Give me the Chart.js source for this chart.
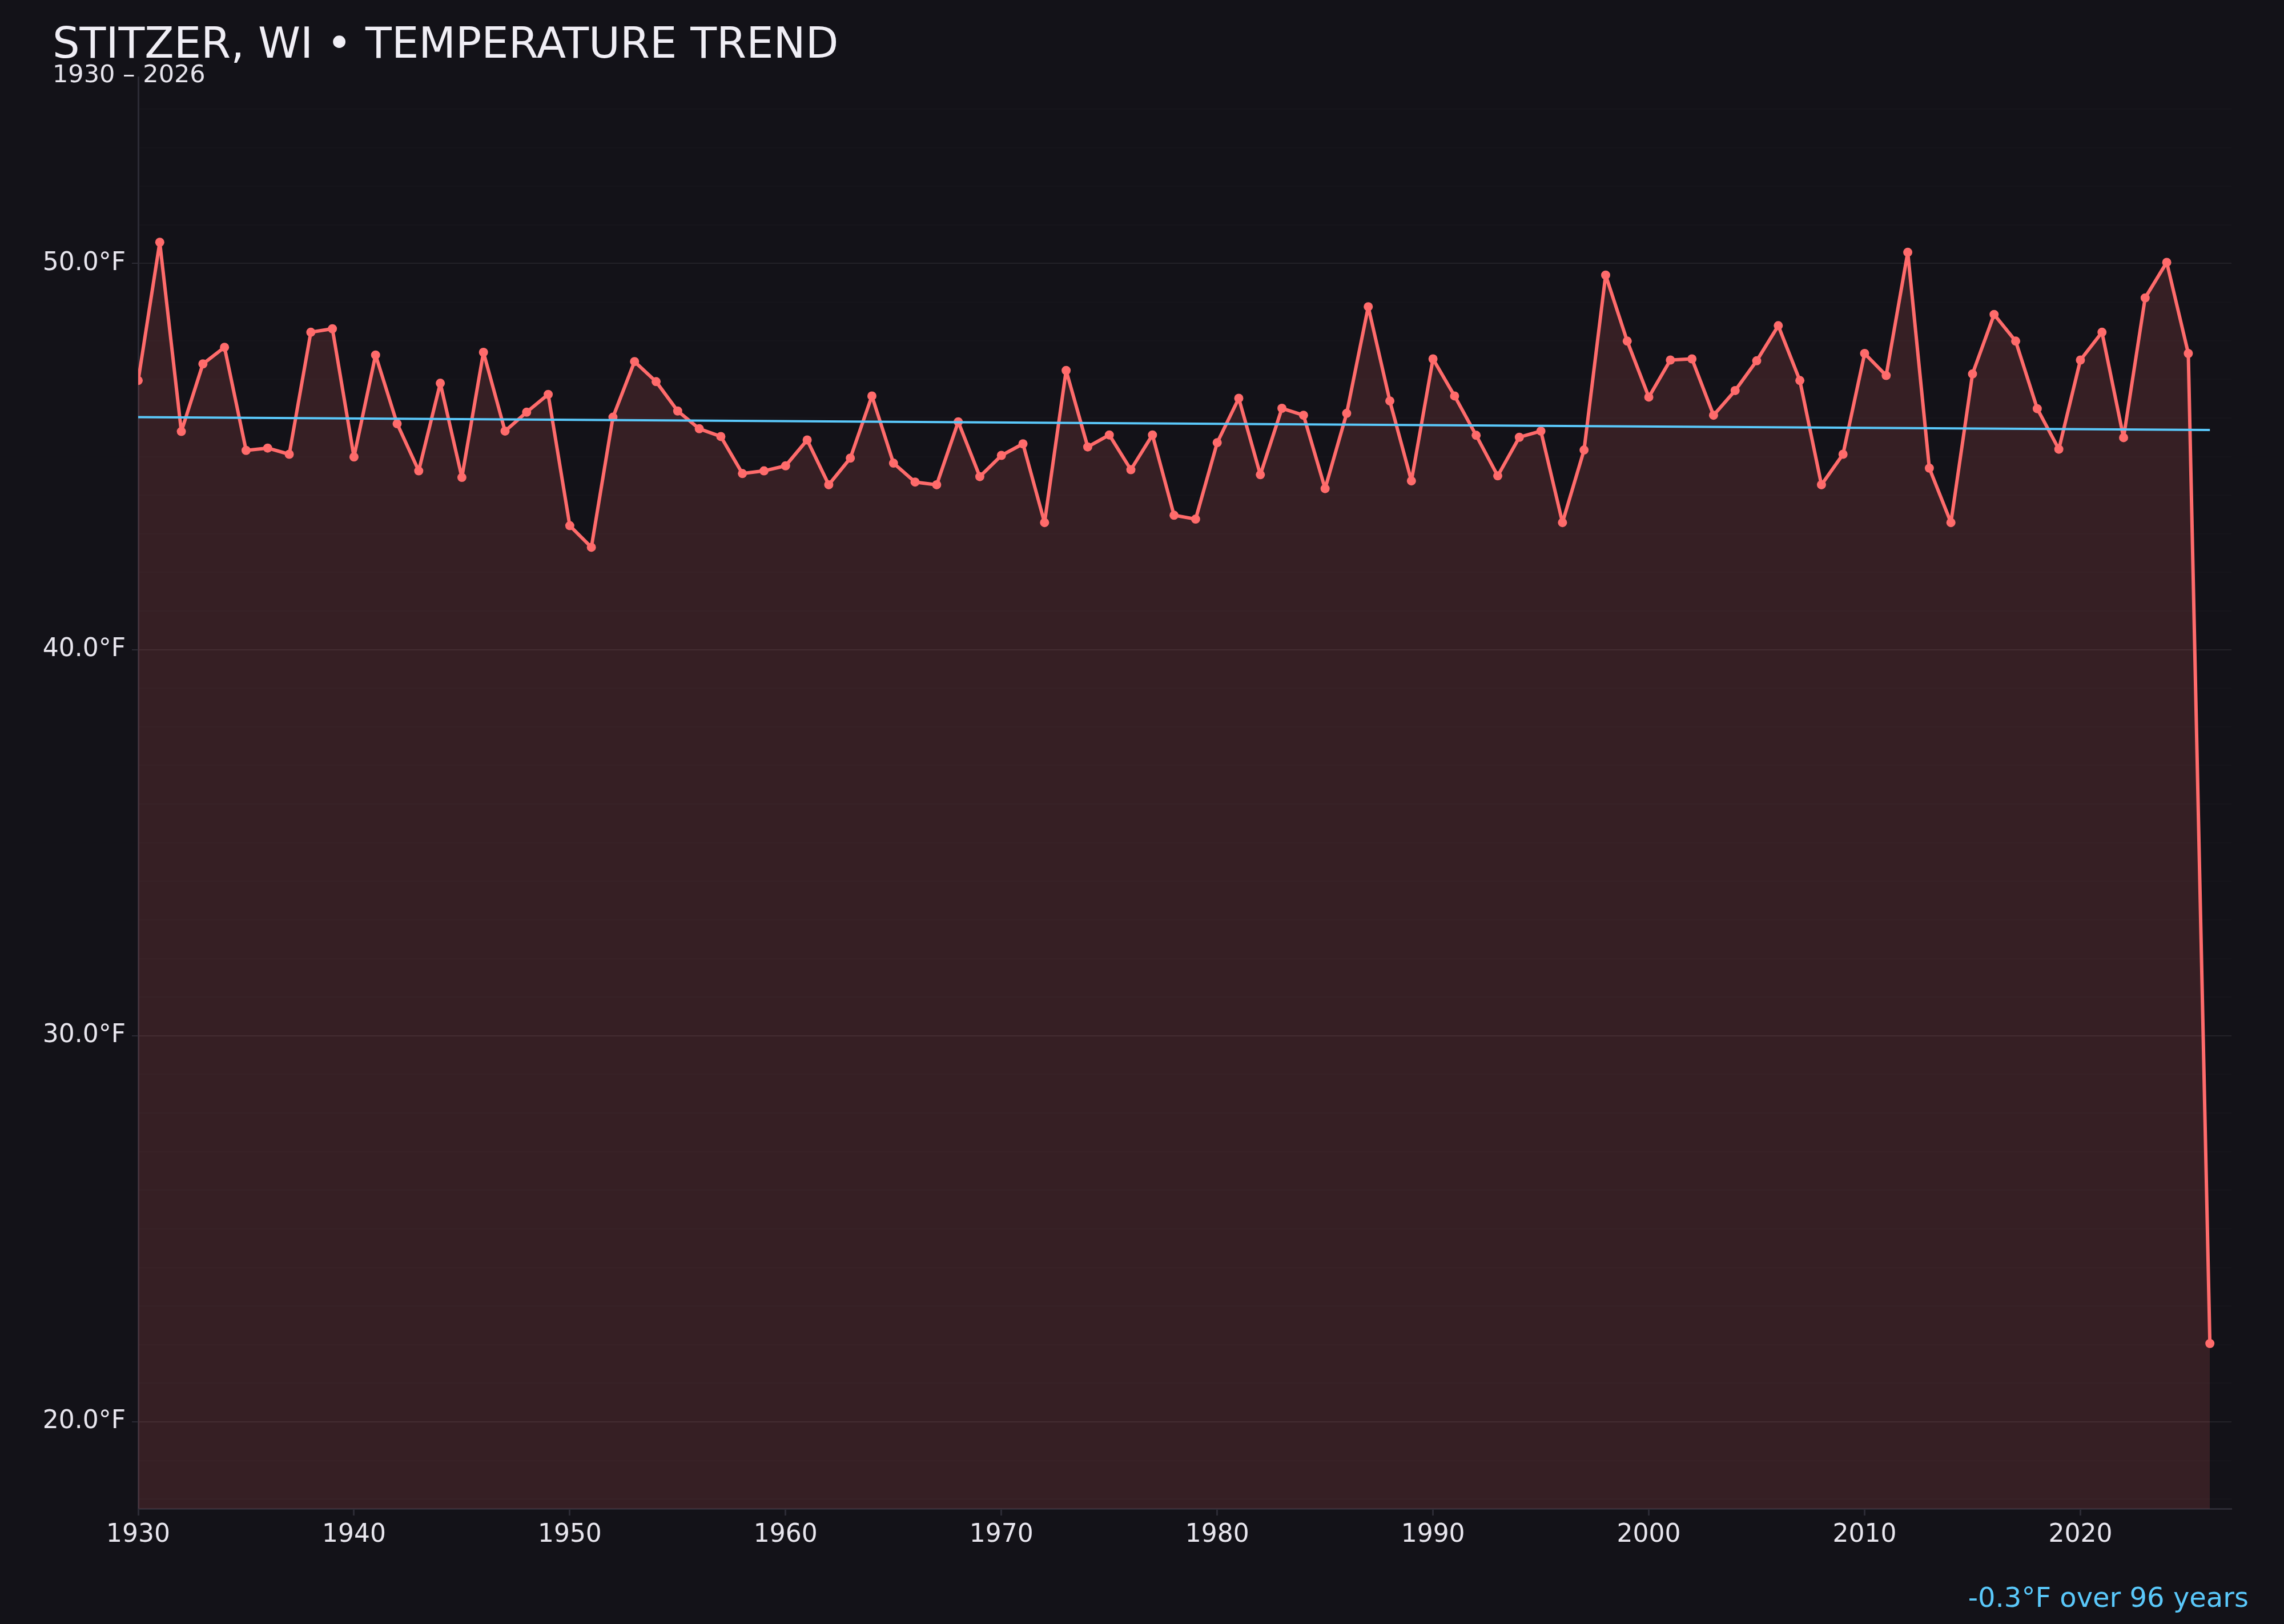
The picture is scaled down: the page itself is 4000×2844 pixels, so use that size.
<!DOCTYPE html>
<html><head><meta charset="utf-8">
<script src="https://cdn.jsdelivr.net/npm/chart.js@4.4.1/dist/chart.umd.min.js"></script>
<style>
html,body{margin:0;padding:0;background:#131218;}
#wrap{position:relative;width:4000px;height:2844px;background:#131218;overflow:hidden;}
#c{position:absolute;left:0;top:0;}
.t{position:absolute;font-family:"DejaVu Sans",sans-serif;line-height:1;white-space:nowrap;}
</style></head><body>
<div id="wrap">
<canvas id="c" width="4000" height="2844"></canvas>
<div class="t" id="title" style="left:92px;top:38px;font-size:75px;color:#f0eef5;">STITZER, WI • TEMPERATURE TREND</div>
<div class="t" id="sub" style="left:92px;top:108px;font-size:43px;color:#e6e4ec;">1930 – 2026</div>
<div class="t" id="foot" style="right:62px;top:2773px;font-size:48px;color:#5ac8fa;">-0.3°F over 96 years</div>
</div>
<script>
const years = [1930,1931,1932,1933,1934,1935,1936,1937,1938,1939,
  1940,1941,1942,1943,1944,1945,1946,1947,1948,1949,
  1950,1951,1952,1953,1954,1955,1956,1957,1958,1959,
  1960,1961,1962,1963,1964,1965,1966,1967,1968,1969,
  1970,1971,1972,1973,1974,1975,1976,1977,1978,1979,
  1980,1981,1982,1983,1984,1985,1986,1987,1988,1989,
  1990,1991,1992,1993,1994,1995,1996,1997,1998,1999,
  2000,2001,2002,2003,2004,2005,2006,2007,2008,2009,
  2010,2011,2012,2013,2014,2015,2016,2017,2018,2019,
  2020,2021,2022,2023,2024,2025,2026];
const temps = [46.97,50.55,45.65,47.40,47.83,45.16,45.22,45.06,48.22,48.31,
  44.99,47.63,45.85,44.63,46.90,44.46,47.70,45.66,46.15,46.61,
  43.21,42.65,46.02,47.46,46.94,46.18,45.72,45.52,44.56,44.63,
  44.76,45.43,44.27,44.96,46.57,44.83,44.34,44.27,45.90,44.48,
  45.03,45.33,43.29,47.23,45.25,45.56,44.66,45.56,43.48,43.38,
  45.36,46.51,44.53,46.25,46.07,44.17,46.12,48.88,46.44,44.37,
  47.53,46.57,45.55,44.50,45.50,45.66,43.29,45.17,49.70,47.99,
  46.54,47.50,47.53,46.07,46.71,47.48,48.39,46.97,44.27,45.06,
  47.67,47.10,50.29,44.70,43.29,47.14,48.68,47.99,46.24,45.19,
  47.50,48.22,45.49,49.11,50.03,47.67,22.03];
const trendYears = [1930, 2026];
const trendTemps = [46.02, 45.69];
const xTickYears = [1930,1940,1950,1960,1970,1980,1990,2000,2010,2020];
const yLabelTemps = [20,30,40,50];

const AXIS = '#2c2b35';
Chart.defaults.font.family = '"DejaVu Sans", sans-serif';
const lo = Math.min(...temps), hi = Math.max(...temps), pad = (hi - lo) * 0.15;
const yMin = lo - pad, yMax = hi + pad;

new Chart(document.getElementById('c').getContext('2d'), {
  type: 'line',
  data: {
    datasets: [
      {
        label: 'Trend',
        data: trendYears.map((y, i) => ({x: y, y: trendTemps[i]})),
        borderColor: '#5ac8fa', borderWidth: 4, pointRadius: 0, fill: false, tension: 0
      },
      {
        label: 'Average temperature',
        data: years.map((y, i) => ({x: y, y: temps[i]})),
        borderColor: '#ff6b6b', backgroundColor: 'rgba(255,107,107,0.15)',
        borderWidth: 6, pointRadius: 8, pointBackgroundColor: '#ff6b6b',
        pointBorderWidth: 0, fill: 'start', tension: 0, borderJoinStyle: 'round'
      }
    ]
  },
  options: {
    responsive: false, devicePixelRatio: 1, animation: false,
    layout: {padding: {left: 0, right: 92, top: 135, bottom: 0}},
    plugins: {legend: {display: false}, tooltip: {enabled: false}},
    scales: {
      x: {
        type: 'linear', min: 1930, max: 2027,
        afterBuildTicks: s => { s.ticks = xTickYears.map(v => ({value: v})); },
        afterFit: s => { s.height = 202; },
        ticks: {color: '#e8e6ee', font: {size: 44}, padding: 8, maxRotation: 0, autoSkip: false,
                callback: v => String(v)},
        grid: {drawOnChartArea: false, tickLength: 12, tickColor: AXIS, tickWidth: 3},
        border: {color: AXIS, width: 3}
      },
      y: {
        type: 'linear', min: yMin, max: yMax,
        afterBuildTicks: s => {
          const t = [];
          for (let v = Math.ceil(s.min); v <= Math.floor(s.max); v++) t.push({value: v});
          s.ticks = t;
        },
        afterFit: s => { s.width = 242; },
        ticks: {color: '#e8e6ee', font: {size: 44}, padding: 11, autoSkip: false,
                callback: v => yLabelTemps.includes(v) ? v.toFixed(1) + '°F' : ''},
        grid: {
          color: c => (c.tick && yLabelTemps.includes(c.tick.value)) ? 'rgba(255,255,255,0.07)' : 'rgba(255,255,255,0.016)',
          lineWidth: 2, tickLength: 11,
          tickColor: c => (c.tick && yLabelTemps.includes(c.tick.value)) ? AXIS : 'rgba(0,0,0,0)'
        },
        border: {color: AXIS, width: 3}
      }
    }
  }
});
</script>
</body></html>
